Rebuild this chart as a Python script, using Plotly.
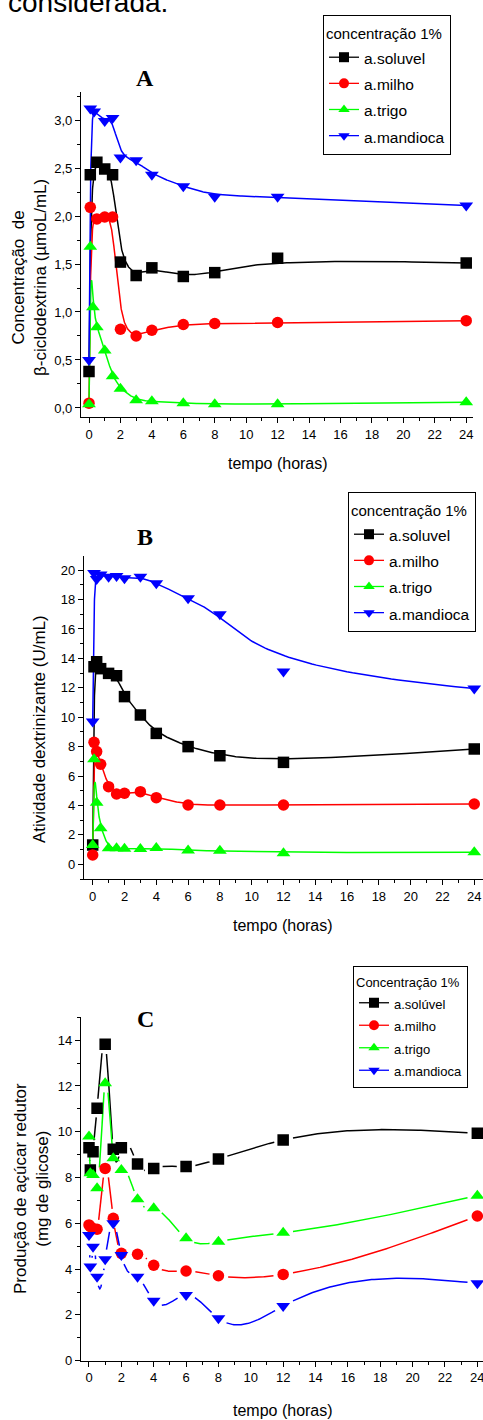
import numpy as np
import plotly.graph_objects as go

W, H = 483, 1420

# ---------------- data ----------------
series_names = ["a.soluvel", "a.milho", "a.trigo", "a.mandioca"]
series_names_C = ["a.solúvel", "a.milho", "a.trigo", "a.mandioca"]
colors = ["#000000", "#ff0000", "#00ff00", "#0000ff"]
symbols = ["square", "circle", "triangle-up", "triangle-down"]

# Panel A: beta-cyclodextrin concentration (umol/mL)
tA_sol = [0, 0.083, 0.5, 1, 1.5, 2, 3, 4, 6, 8, 12, 24]
A_sol = [0.38, 2.43, 2.56, 2.49, 2.43, 1.52, 1.38, 1.46, 1.37, 1.41, 1.56, 1.51]
tA_mil = [0, 0.083, 0.5, 1, 1.5, 2, 3, 4, 6, 8, 12, 24]
A_mil = [0.05, 2.09, 1.97, 1.99, 1.99, 0.82, 0.75, 0.81, 0.87, 0.88, 0.89, 0.91]
tA_tri = [0, 0.083, 0.25, 0.5, 1, 1.5, 2, 3, 4, 6, 8, 12, 24]
A_tri = [0.04, 1.68, 1.05, 0.84, 0.60, 0.33, 0.20, 0.08, 0.07, 0.05, 0.04, 0.04, 0.06]
tA_man = [0, 0.083, 0.33, 1, 1.5, 2, 3, 4, 6, 8, 12, 24]
A_man = [0.50, 3.12, 3.09, 2.99, 3.02, 2.61, 2.58, 2.43, 2.31, 2.20, 2.20, 2.11]

# Panel B: dextrinizing activity (U/mL)
tB = [0, 0.083, 0.25, 0.5, 1, 1.5, 2, 3, 4, 6, 8, 12, 24]
B_sol = [1.31, 13.43, 13.77, 13.30, 12.98, 12.82, 11.40, 10.15, 8.90, 8.00, 7.38, 6.93, 7.84]
B_mil = [0.63, 8.29, 7.66, 6.80, 5.28, 4.78, 4.83, 4.94, 4.53, 4.03, 4.03, 4.03, 4.10]
B_tri = [1.31, 7.14, 4.19, 2.45, 1.09, 1.09, 1.05, 1.04, 1.10, 0.93, 0.92, 0.75, 0.82]
B_man = [9.70, 19.80, 19.40, 19.70, 19.55, 19.60, 19.44, 19.55, 19.10, 18.08, 17.00, 13.10, 11.96]

# Panel C: reducing sugar production (mg glucose)
tC = [0, 0.083, 0.25, 0.5, 1, 1.5, 2, 3, 4, 6, 8, 12, 24]
C_sol = [9.30, 8.33, 9.13, 11.03, 13.82, 9.24, 9.30, 8.59, 8.40, 8.48, 8.81, 9.64, 9.93]
C_mil = [5.93, 5.85, 5.78, 5.74, 8.40, 6.22, 4.69, 4.65, 4.17, 3.92, 3.71, 3.77, 6.32]
C_tri = [9.79, 8.19, 8.11, 7.53, 12.12, 8.84, 8.33, 7.05, 6.66, 5.35, 5.20, 5.59, 7.21]
C_man = [5.49, 4.11, 4.98, 3.67, 4.43, 6.00, 4.62, 3.67, 2.62, 2.87, 1.85, 2.39, 3.38]

xticks = list(range(0, 25, 2))

# ---------------- layout constants (pixels) ----------------
PANELS = {
    "A": dict(box=(81, 473.3, 92, 417), xr=(-0.509, 24.45), yr=(-0.094, 3.292)),
    "B": dict(box=(84, 483, 556, 879), xr=(-0.547, 24.55), yr=(-1.0, 20.96)),
    "C": dict(box=(81, 483, 1017.3, 1360.7), xr=(-0.494, 24.35), yr=(0.0, 15.0)),
}

NARROW = "Liberation Sans Narrow, Arial Narrow, Liberation Sans, Arial, sans-serif"
SANS = "Liberation Sans, Arial, sans-serif"
SERIF = "Liberation Serif, Times New Roman, serif"


def px2x(p):
    return p / W


def px2y(p):
    return 1 - p / H


# ---------------- curve helpers ----------------
def bspline_curve(xs, ys, n=600, k=3):
    P = np.column_stack([xs, ys]).astype(float)
    m = len(P)
    inner = np.linspace(0, 1, m - k + 1)[1:-1]
    t = np.concatenate([[0.0] * (k + 1), inner, [1.0] * (k + 1)])
    out = []
    for u in np.linspace(0, 1, n):
        uu = min(u, 1 - 1e-12)
        s = int(np.searchsorted(t, uu, side="right") - 1)
        s = min(max(s, k), m - 1)
        d = [P[j + s - k].copy() for j in range(k + 1)]
        for r in range(1, k + 1):
            for j in range(k, r - 1, -1):
                den = t[j + 1 + s - r] - t[j + s - k]
                a = 0.0 if den == 0 else (uu - t[j + s - k]) / den
                d[j] = (1 - a) * d[j - 1] + a * d[j]
        out.append(d[k])
    out = np.array(out)
    return out[:, 0], out[:, 1]


def natural_spline(xs, ys, per=80):
    x = np.asarray(xs, float)
    y = np.asarray(ys, float)
    n = len(x)
    h = np.diff(x)
    A = np.zeros((n, n))
    b = np.zeros(n)
    A[0, 0] = A[-1, -1] = 1
    for i in range(1, n - 1):
        A[i, i - 1] = h[i - 1]
        A[i, i] = 2 * (h[i - 1] + h[i])
        A[i, i + 1] = h[i]
        b[i] = 6 * ((y[i + 1] - y[i]) / h[i] - (y[i] - y[i - 1]) / h[i - 1])
    M = np.linalg.solve(A, b)
    xx, yy = [], []
    for i in range(n - 1):
        tt = np.linspace(x[i], x[i + 1], per, endpoint=(i == n - 2))
        a = (x[i + 1] - tt) / h[i]
        bb = (tt - x[i]) / h[i]
        s = a * y[i] + bb * y[i + 1] + ((a ** 3 - a) * M[i] + (bb ** 3 - bb) * M[i + 1]) * h[i] ** 2 / 6
        xx.extend(tt)
        yy.extend(s)
    return np.array(xx), np.array(yy)


def gapped(cx, cy, mx, my, panel, gap):
    l, r, tp, bt = PANELS[panel]["box"]
    x0, x1 = PANELS[panel]["xr"]
    y0, y1 = PANELS[panel]["yr"]
    sx = (r - l) / (x1 - x0)
    sy = (bt - tp) / (y1 - y0)
    cpx = cx * sx
    cpy = cy * sy
    keep = np.ones(len(cx), bool)
    for a, b in zip(mx, my):
        dist = np.hypot(cpx - a * sx, cpy - b * sy)
        keep &= dist > gap
    ox = [float(v) if k else None for v, k in zip(cx, keep)]
    oy = [float(v) if k else None for v, k in zip(cy, keep)]
    return ox, oy


def span(text, size):
    return '<span style="font-size:%spx">%s</span>' % (size, text)


fig = go.Figure()

panel_axes = {"A": ("x", "y"), "B": ("x2", "y2"), "C": ("x3", "y3")}
panel_legend = {"A": "legend", "B": "legend2", "C": "legend3"}
legend_text_size = {"A": 15.5, "B": 15.5, "C": 13}

dataA = [(tA_sol, A_sol), (tA_mil, A_mil), (tA_tri, A_tri), (tA_man, A_man)]
dataB = [(tB, B_sol), (tB, B_mil), (tB, B_tri), (tB, B_man)]
dataC = [(tC, C_sol), (tC, C_mil), (tC, C_tri), (tC, C_man)]
msizes = [11.5, 11.5, 12, 12]

for panel, data, names in (("A", dataA, series_names), ("B", dataB, series_names),
                           ("C", dataC, series_names_C)):
    xa, ya = panel_axes[panel]
    for i, (xs, ys) in enumerate(data):
        if panel == "C":
            cx, cy = natural_spline(xs, ys)
            lx, ly = gapped(cx, cy, xs, ys, panel, 9)
        else:
            cx, cy = bspline_curve(xs, ys)
            lx, ly = list(cx), list(cy)
        fig.add_trace(go.Scatter(x=lx, y=ly, mode="lines", xaxis=xa, yaxis=ya,
                                 line=dict(color=colors[i], width=1.5),
                                 showlegend=False, hoverinfo="skip"))
    for i, (xs, ys) in enumerate(data):
        fig.add_trace(go.Scatter(x=xs, y=ys, mode="markers", xaxis=xa, yaxis=ya,
                                 marker=dict(symbol=symbols[i], color=colors[i], size=msizes[i],
                                             line=dict(width=0)),
                                 showlegend=False))
    for i in range(4):
        fig.add_trace(go.Scatter(x=[None], y=[None], mode="lines+markers", xaxis=xa, yaxis=ya,
                                 name=span(names[i], legend_text_size[panel]),
                                 legend=panel_legend[panel],
                                 marker=dict(symbol=symbols[i], color=colors[i], size=10,
                                             line=dict(width=0)),
                                 line=dict(color=colors[i], width=1.3)))


def axis_common():
    return dict(showline=True, linecolor="black", linewidth=1.3, mirror=False,
                showgrid=False, zeroline=False, ticks="outside", ticklen=5,
                tickwidth=1.2, tickcolor="black", automargin=False,
                ticklabeloverflow="allow",
                tickfont=dict(family=NARROW, size=13, color="black"))


layout = dict(width=W, height=H,
              margin=dict(l=0, r=0, t=0, b=0, pad=0, autoexpand=False),
              paper_bgcolor="white", plot_bgcolor="white", separators=",.",
              showlegend=True)

ydticks = {"A": (0.5, 0.25, ".1f"), "B": (2, 1, "d"), "C": (2, 1, "d")}
for idx, panel in enumerate(["A", "B", "C"]):
    l, r, tp, bt = PANELS[panel]["box"]
    sfx = "" if idx == 0 else str(idx + 1)
    xa = axis_common()
    xa.update(domain=[px2x(l), px2x(r)], range=list(PANELS[panel]["xr"]),
              tickvals=xticks, anchor="y" + sfx,
              minor=dict(dtick=1, tick0=0, ticks="outside", ticklen=3, tickwidth=1.2,
                         tickcolor="black"))
    ya = axis_common()
    dt, mdt, fmt = ydticks[panel]
    ya.update(domain=[px2y(bt), px2y(tp)], range=list(PANELS[panel]["yr"]),
              dtick=dt, tick0=0, tickformat=fmt, anchor="x" + sfx,
              minor=dict(dtick=mdt, tick0=0, ticks="outside", ticklen=3, tickwidth=1.2,
                         tickcolor="black"))
    layout["xaxis" + sfx] = xa
    layout["yaxis" + sfx] = ya


def legend_cfg(left, top, title, fsize, tsize):
    return dict(x=px2x(left), y=px2y(top), xanchor="left", yanchor="top",
                xref="paper", yref="paper",
                bgcolor="white", bordercolor="black", borderwidth=1,
                font=dict(family=NARROW, size=fsize, color="black"),
                title=dict(text=span(title, tsize),
                           font=dict(family=NARROW, size=fsize, color="black")),
                tracegroupgap=0, itemclick=False)


layout["legend"] = legend_cfg(323, 15, "concentração 1%", 17.8, 15)
layout["legend2"] = legend_cfg(348, 492, "concentração 1%", 17.8, 15)
layout["legend3"] = legend_cfg(353, 966, "Concentração 1%", 15, 13)

ann = []


def add_text(text, xp, yp, size, family=SANS, angle=0, xanchor="center", yanchor="middle",
             bold=False):
    ann.append(dict(text=("<b>%s</b>" % text) if bold else text, x=px2x(xp), y=px2y(yp),
                    xref="paper", yref="paper", showarrow=False, textangle=angle,
                    xanchor=xanchor, yanchor=yanchor,
                    font=dict(family=family, size=size, color="black")))


add_text("considerada.", 6, 20, 28, xanchor="left", yanchor="bottom")
add_text("A", 145, 78, 24, family=SERIF, bold=True)
add_text("B", 145, 537, 24, family=SERIF, bold=True)
add_text("C", 145, 1019, 24, family=SERIF, bold=True)
add_text("Concentração  de<br>β-ciclodextrina (µmoL/mL)", 30, 278, 17, angle=-90)
add_text("Atividade dextrinizante (U/mL)", 39, 729, 17, angle=-90)
add_text("Produção de açúcar redutor<br>(mg de glicose)", 31, 1189, 17, angle=-90)
add_text("tempo (horas)", 278, 463, 16, family=NARROW)
add_text("tempo (horas)", 283, 925, 16, family=NARROW)
add_text("tempo (horas)", 283, 1410, 16, family=NARROW)

layout["annotations"] = ann
fig.update_layout(**layout)
fig.write_html("out.html")
